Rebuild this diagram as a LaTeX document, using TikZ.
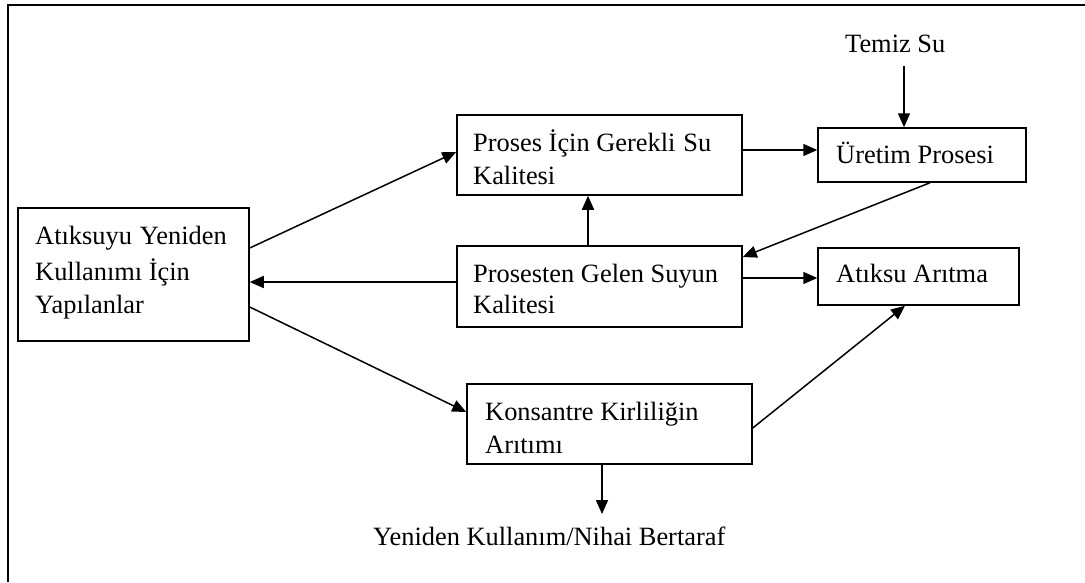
\documentclass[tikz,border=0pt]{standalone}
\usepackage{fontspec}
\setmainfont{Liberation Serif}
\usetikzlibrary{arrows.meta}
\tikzset{
  box/.style={draw, line width=1.5pt, rectangle, inner sep=0pt},
  txt/.style={anchor=base west, inner sep=0pt, font=\fontsize{26.4}{33}\selectfont},
  flow/.style={line width=1.5pt, -{Triangle[length=14pt,width=12pt]}},
  plain/.style={line width=1.5pt}
}
\begin{document}
\begin{tikzpicture}[x=1pt,y=-1pt]
\useasboundingbox (0,0) rectangle (1085,582);
% frame (open on the right and bottom)
\draw[line width=2pt] (7.5,582) -- (7.5,4.5) -- (1085,4.5);

% boxes
\node[box, minimum width=231pt, minimum height=133pt] (a) at (133.5,274.5) {};
\node[box, minimum width=285pt, minimum height=80pt] (p) at (599.5,155) {};
\node[box, minimum width=285pt, minimum height=81pt] (g) at (599.5,286.5) {};
\node[box, minimum width=208pt, minimum height=54pt] (u) at (922,155) {};
\node[box, minimum width=201pt, minimum height=57pt] (w) at (918.5,276.5) {};
\node[box, minimum width=285pt, minimum height=80pt] (k) at (609.5,424) {};

% box texts
\node[txt] (a1) at (35,244) {Atıksuyu\hspace{0.3em}Yeniden};
\node[txt] (a2) at (35,280) {Kullanımı İçin};
\node[txt] (a3) at (35,313) {Yapılanlar};
\node[txt] (p1) at (473,151) {Proses İçin Gerekli\hspace{0.3em}Su};
\node[txt] (p2) at (473,184) {Kalitesi};
\node[txt] (g1) at (473,282) {Prosesten Gelen Suyun};
\node[txt] (g2) at (473,313) {Kalitesi};
\node[txt] (k1) at (485,420) {Konsantre Kirliliğin};
\node[txt] (k2) at (485,453) {Arıtımı};
\node[txt] (u1) at (836,163) {Üretim Prosesi};
\node[txt] (w1) at (836,282) {Atıksu Arıtma};

% free labels
\node[txt] (temiz) at (845,52) {Temiz Su};
\node[txt] (son) at (373,545) {Yeniden Kullanım/Nihai Bertaraf};
\coordinate (temizend) at (904,66);
\coordinate (sonend) at (602,514);

% connectors
\draw[flow] ([yshift=26.5pt]a.east) -- ([yshift=3pt]p.west);
\draw[flow] ([yshift=4.5pt]g.west) -- ([yshift=4.5pt]g.west -| a.east);
\draw[flow] ([yshift=-32.5pt]a.east) -- ([yshift=12pt]k.west);
\draw[flow] ([xshift=-11.5pt]g.north) -- ([xshift=-11.5pt]p.south);
\draw[flow] ([yshift=5pt]p.east) -- ([yshift=5pt]p.east -| u.west);
\draw[flow] ([xshift=8pt]u.south) -- ([yshift=29.5pt]g.east);
\draw[flow] ([yshift=8.5pt]g.east) -- ([yshift=8.5pt]g.east -| w.west);
\draw[flow] ([yshift=-4pt]k.east) -- ([xshift=-13.5pt]w.south);
\draw[flow] (temizend) -- ([xshift=-18pt]u.north);
\draw[flow] ([xshift=-7.5pt]k.south) -- (sonend);
\end{tikzpicture}
\end{document}
